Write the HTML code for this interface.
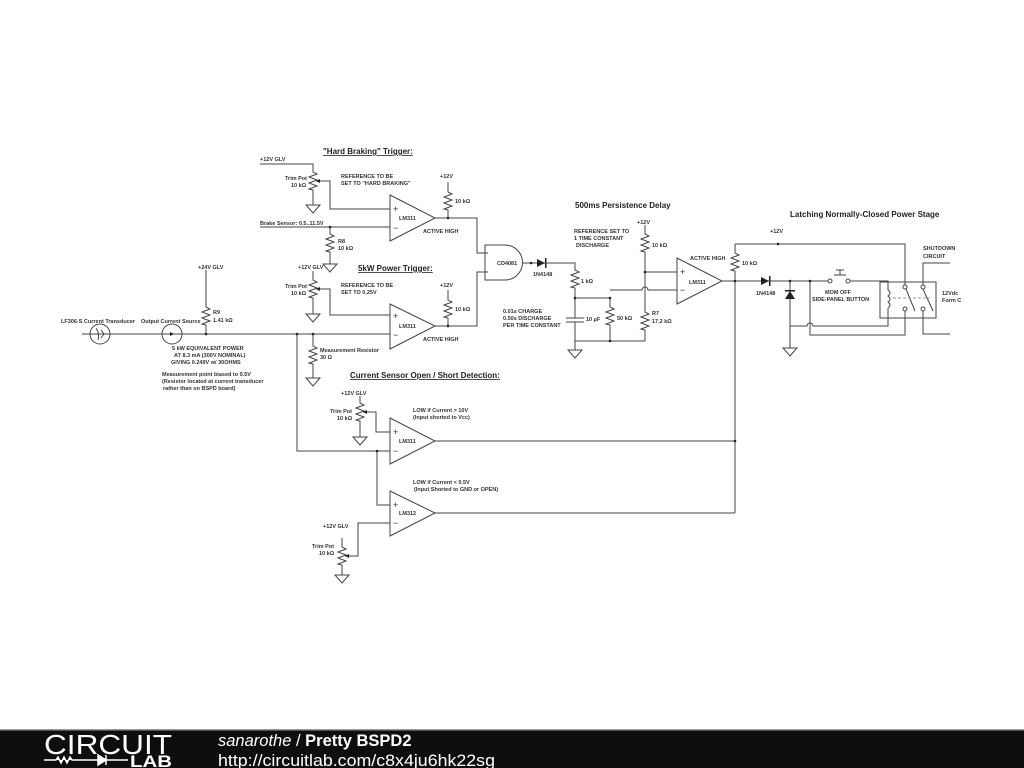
<!DOCTYPE html>
<html><head><meta charset="utf-8"><style>
html,body{margin:0;padding:0;background:#fff;width:1024px;height:768px;overflow:hidden}
svg{display:block}
text{font-family:"Liberation Sans",sans-serif;font-size:5.5px;font-weight:bold;fill:#333}
.t{font-size:8px;text-decoration:underline;fill:#222}
.h{font-size:8px;fill:#222}
</style></head><body>
<svg width="1024" height="768" viewBox="0 0 1024 768" xmlns="http://www.w3.org/2000/svg">
<defs>
<symbol id="r" overflow="visible"><path d="M0 0 L0 2 L4 4 L-4 7 L4 10 L-4 13 L4 16 L-4 19 L0 20 L0 22" fill="none" stroke="#444" stroke-width="1"/></symbol>
<symbol id="g" overflow="visible"><path d="M-7 0 L7 0 L0 8 Z" fill="#fff" stroke="#444" stroke-width="1"/></symbol>
</defs>
<g fill="none" stroke="#444" stroke-width="1">
<path d="M82 334 H390"/>
<circle cx="100" cy="334" r="10"/><path d="M96 328 q4 6 2 12 M101 330 l3 4 l-3 4"/>
<circle cx="172" cy="334" r="10"/><path d="M166 334 h10"/>
<path d="M206 270 V305 M206 327 V334"/>
<path d="M313 334 V344 M313 366 V378"/>
<path d="M297 334 V451 H390 M377 451 V505 H390"/>
<path d="M260 164 H313 V170 M313 192 V205"/>
<path d="M316 181 H330 V209 H390"/>
<path d="M260 227 H390 M330 227 V232 M330 254 V264"/>
<path d="M390 195 L435 218 L390 241 Z"/>
<path d="M390 304 L435 326 L390 349 Z"/>
<path d="M390 418 L435 441 L390 464 Z"/>
<path d="M390 491 L435 513 L390 536 Z"/>
<path d="M677 258 L722 281 L677 304 Z"/>
<path d="M313 271 V278 M313 300 V314"/>
<path d="M316 289 H330 V315 H390"/>
<path d="M448 182 V190 M448 212 V218 M435 218 H477 V253 H488"/>
<path d="M448 290 V298 M448 320 V326 M435 326 H477 V272 H488"/>
<path d="M485 245 H505 A17.5 17.5 0 0 1 505 280 H485 Z"/>
<path d="M523 263 H575 V268 M575 290 V318 M566 318 H584 M566 322 H584 M575 322 V350"/>
<path d="M575 298 H610 V305 M610 327 V341 M575 341 H645"/>
<path d="M610 290 H642 a3 3 0 0 1 6 0 H677"/>
<path d="M645 225 V232 M645 254 V272 H677 M645 272 V310 M645 332 V341"/>
<path d="M722 281 H828 M850 281 H888 V290 M735 244 V251 M735 273 V513 M735 244 H905 V285"/>
<path d="M435 441 H735 M435 513 H735"/>
<path d="M790 281 V348 M790 326 H807 a3 3 0 0 1 6 0 H888 V308"/>
<path d="M810 281 V335 H905 V311"/>
<path d="M834 275 H846 M840 275 V270 M836 270 H844"/>
<rect x="880" y="282" width="56" height="36"/>
<path d="M888 290 q4 3 0 6 q4 3 0 6 q4 3 0 6"/>
<path d="M906 289 L915 311 M923 289 L933 311"/>
<path d="M923 285 V263 H950 M923 311 V334 H950"/>
<path d="M893 298 H930" stroke-dasharray="3 2" stroke="#999"/>
<circle cx="905" cy="287" r="2" fill="#fff"/><circle cx="923" cy="287" r="2" fill="#fff"/>
<circle cx="905" cy="309" r="2" fill="#fff"/><circle cx="923" cy="309" r="2" fill="#fff"/>
<circle cx="830" cy="281" r="2" fill="#fff"/><circle cx="848" cy="281" r="2" fill="#fff"/>
<path d="M360 396 V401 M360 423 V437"/>
<path d="M363 412 H376 V432 H390"/>
<path d="M342 538 V545 M342 567 V575"/>
<path d="M345 556 H358 V523 H390"/>
</g>
<use href="#r" x="206" y="305"/><use href="#r" x="313" y="344"/>
<use href="#r" x="313" y="170"/><use href="#r" x="330" y="232"/>
<use href="#r" x="313" y="278"/><use href="#r" x="448" y="190"/>
<use href="#r" x="448" y="298"/><use href="#r" x="575" y="268"/>
<use href="#r" x="610" y="305"/><use href="#r" x="645" y="232"/>
<use href="#r" x="645" y="310"/><use href="#r" x="735" y="251"/>
<use href="#r" x="360" y="401"/><use href="#r" x="342" y="545"/>
<use href="#g" x="313" y="205"/><use href="#g" x="330" y="264"/><use href="#g" x="313" y="314"/>
<use href="#g" x="313" y="378"/><use href="#g" x="575" y="350"/><use href="#g" x="790" y="348"/>
<use href="#g" x="360" y="437"/><use href="#g" x="342" y="575"/>
<g fill="#222">
<path d="M537 259 L545 263 L537 267 Z"/><rect x="545" y="258" width="1.5" height="10"/>
<path d="M761 277 L769 281 L761 285 Z"/><rect x="769" y="276" width="1.5" height="10"/>
<path d="M785 299 L795 299 L790 291 Z"/><rect x="785" y="290" width="10" height="1.5"/>
<path d="M316 181 l4 -2 v4 Z"/><path d="M316 289 l4 -2 v4 Z"/><path d="M363 412 l4 -2 v4 Z"/><path d="M345 556 l4 -2 v4 Z"/>
<path d="M170 332 l4 2 l-4 2 Z"/>
<circle cx="206" cy="334" r="1.3"/><circle cx="297" cy="334" r="1.3"/><circle cx="313" cy="334" r="1.3"/>
<circle cx="330" cy="227" r="1.3"/><circle cx="448" cy="218" r="1.3"/><circle cx="448" cy="326" r="1.3"/>
<circle cx="575" cy="298" r="1.3"/><circle cx="610" cy="298" r="1.3"/><circle cx="610" cy="341" r="1.3"/>
<circle cx="645" cy="272" r="1.3"/><circle cx="735" cy="281" r="1.3"/><circle cx="778" cy="244" r="1.3"/>
<circle cx="790" cy="281" r="1.3"/><circle cx="810" cy="281" r="1.3"/><circle cx="377" cy="451" r="1.3"/>
<circle cx="735" cy="441" r="1.3"/><circle cx="531" cy="263" r="1.3"/>
</g>
<g>
<text x="393" y="212" style="font-size:9px;font-weight:normal">+</text><text x="393" y="231" style="font-size:9px;font-weight:normal">−</text>
<text x="393" y="319" style="font-size:9px;font-weight:normal">+</text><text x="393" y="338" style="font-size:9px;font-weight:normal">−</text>
<text x="393" y="435" style="font-size:9px;font-weight:normal">+</text><text x="393" y="454" style="font-size:9px;font-weight:normal">−</text>
<text x="393" y="508" style="font-size:9px;font-weight:normal">+</text><text x="393" y="526" style="font-size:9px;font-weight:normal">−</text>
<text x="680" y="275" style="font-size:9px;font-weight:normal">+</text><text x="680" y="293" style="font-size:9px;font-weight:normal">−</text>
</g>
<text class="t" x="323" y="154">"Hard Braking" Trigger:</text>
<text class="t" x="358" y="271">5kW Power Trigger:</text>
<text class="t" x="350" y="378">Current Sensor Open / Short Detection:</text>
<text class="h" x="575" y="208">500ms Persistence Delay</text>
<text class="h" x="790" y="217">Latching Normally-Closed Power Stage</text>
<text x="260" y="161">+12V GLV</text>
<text x="285" y="180">Trim Pot</text><text x="291" y="187">10 kΩ</text>
<text x="341" y="178">REFERENCE TO BE</text><text x="341" y="185">SET TO "HARD BRAKING"</text>
<text x="440" y="178">+12V</text><text x="455" y="203">10 kΩ</text>
<text x="399" y="220">LM311</text><text x="423" y="233">ACTIVE HIGH</text>
<text x="260" y="225">Brake Sensor: 0.5..11.5V</text>
<text x="338" y="243">R8</text><text x="338" y="250">10 kΩ</text>
<text x="298" y="269">+12V GLV</text>
<text x="285" y="288">Trim Pot</text><text x="291" y="295">10 kΩ</text>
<text x="341" y="287">REFERENCE TO BE</text><text x="341" y="294">SET TO 0.25V</text>
<text x="440" y="287">+12V</text><text x="455" y="311">10 kΩ</text>
<text x="399" y="328">LM311</text><text x="423" y="341">ACTIVE HIGH</text>
<text x="320" y="352">Measurement Resistor</text><text x="320" y="359">30 Ω</text>
<text x="198" y="269">+24V GLV</text>
<text x="213" y="314">R9</text><text x="213" y="322">1.41 kΩ</text>
<text x="61" y="323">LF306-S Current Transducer</text><text x="141" y="323">Output Current Source</text>
<text x="172" y="350">5 kW EQUIVALENT POWER</text><text x="174" y="357">AT 8.3 mA (300V NOMINAL)</text><text x="171" y="364">GIVING 0.249V w/ 30OHMS</text>
<text x="162" y="376">Measurement point biased to 0.5V</text><text x="162" y="383">(Resistor located at current transducer</text><text x="163" y="390">rather than on BSPD board)</text>
<text x="497" y="265">CD4081</text><text x="533" y="276">1N4148</text>
<text x="581" y="283">1 kΩ</text>
<text x="503" y="313">0.01s CHARGE</text><text x="503" y="320">0.50s DISCHARGE</text><text x="503" y="327">PER TIME CONSTANT</text>
<text x="586" y="321">10 µF</text><text x="617" y="320">50 kΩ</text>
<text x="574" y="233">REFERENCE SET TO</text><text x="574" y="240">1 TIME CONSTANT</text><text x="576" y="247">DISCHARGE</text>
<text x="637" y="224">+12V</text><text x="652" y="247">10 kΩ</text>
<text x="652" y="315">R7</text><text x="652" y="323">17.2 kΩ</text>
<text x="689" y="284">LM311</text><text x="690" y="260">ACTIVE HIGH</text>
<text x="742" y="265">10 kΩ</text><text x="770" y="233">+12V</text>
<text x="756" y="295">1N4148</text>
<text x="825" y="294">MOM OFF</text><text x="812" y="301">SIDE-PANEL BUTTON</text>
<text x="923" y="250">SHUTDOWN</text><text x="923" y="258">CIRCUIT</text>
<text x="942" y="295">12Vdc</text><text x="942" y="302">Form C</text>
<text x="341" y="395">+12V GLV</text>
<text x="330" y="413">Trim Pot</text><text x="337" y="420">10 kΩ</text>
<text x="413" y="412">LOW if Current &gt; 10V</text><text x="413" y="419">(Input shorted to Vcc)</text>
<text x="399" y="443">LM311</text>
<text x="413" y="484">LOW if Current &lt; 0.5V</text><text x="414" y="491">(Input Shorted to GND or OPEN)</text>
<text x="399" y="515">LM312</text>
<text x="323" y="528">+12V GLV</text>
<text x="312" y="548">Trim Pot</text><text x="319" y="555">10 kΩ</text>
<rect x="0" y="729" width="1024" height="39" fill="#0e0e0e"/>
<rect x="0" y="729" width="1024" height="1.5" fill="#999"/>
<text x="44" y="754" textLength="128" lengthAdjust="spacingAndGlyphs" style="font-size:28px;font-weight:normal;fill:#fff">CIRCUIT</text>
<path d="M44 760 H56 l2 -3 l3 6 l3 -6 l3 6 l3 -6 l2 3 H98 M98 755 L106 760 L98 765 Z M106 755 V765 M106 760 H128" stroke="#fff" stroke-width="1.5" fill="#fff"/>
<text x="130" y="767" textLength="42" lengthAdjust="spacingAndGlyphs" style="font-size:17px;font-weight:bold;fill:#fff">LAB</text>
<text x="218" y="746" style="font-size:16.5px;font-weight:normal;fill:#fff"><tspan font-style="italic">sanarothe</tspan> / <tspan font-weight="bold">Pretty BSPD2</tspan></text>
<text x="218" y="766" textLength="277" lengthAdjust="spacingAndGlyphs" style="font-size:16.5px;font-weight:normal;fill:#fff">http://circuitlab.com/c8x4ju6hk22sg</text>
</svg>
</body></html>
